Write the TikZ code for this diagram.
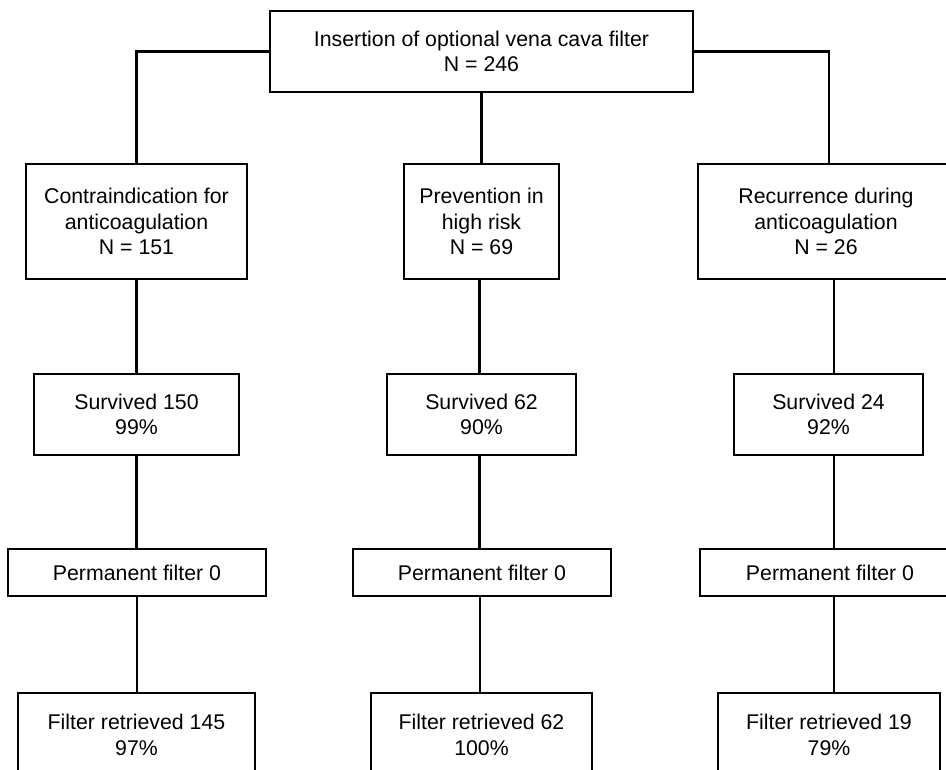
\documentclass[tikz,border=0pt]{standalone}
\usepackage{fontspec}
\setmainfont{Liberation Sans}
\begin{document}
\begin{tikzpicture}[x=1pt,y=-1pt,
  box/.style={draw=black, line width=1.3pt, rectangle, align=center, inner sep=0pt,
              font=\fontsize{21.3}{25.5}\selectfont},
  link/.style={draw=black, line width=2.3pt},
  toplink/.style={draw=black, line width=2.8pt}]
\useasboundingbox (0,0) rectangle (946,770);
\fill[white] (0,0) rectangle (946,770);
\clip (0,0) rectangle (946,770);
% top
\node[box, minimum width=423pt, minimum height=81pt] (top) at (481.5,51.5)
  {Insertion of optional vena cava filter\\N = 246};
% level 2
\node[box, minimum width=221pt, minimum height=115pt] (l2a) at (136.5,221.5)
  {Contraindication for\\anticoagulation\\N = 151};
\node[box, minimum width=155pt, minimum height=115pt] (l2b) at (481.5,221.5)
  {Prevention in\\high risk\\N = 69};
\node[box, minimum width=256pt, minimum height=115pt] (l2c) at (826,221.5)
  {Recurrence during\\anticoagulation\\N = 26};
% level 3
\node[box, minimum width=205pt, minimum height=81pt] (l3a) at (136.5,414.5)
  {Survived 150\\99\%};
\node[box, minimum width=189pt, minimum height=81pt] (l3b) at (481.5,414.5)
  {Survived 62\\90\%};
\node[box, minimum width=189pt, minimum height=81pt] (l3c) at (828.5,414.5)
  {Survived 24\\92\%};
% level 4
\node[box, minimum width=258pt, minimum height=47pt] (l4a) at (137,572.5)
  {Permanent filter 0};
\node[box, minimum width=258pt, minimum height=47pt] (l4b) at (482,572.5)
  {Permanent filter 0};
\node[box, minimum width=260pt, minimum height=47pt] (l4c) at (830,572.5)
  {Permanent filter 0};
% level 5
\node[box, minimum width=237pt, minimum height=84pt] (l5a) at (136.5,735)
  {Filter retrieved 145\\97\%};
\node[box, minimum width=221pt, minimum height=84pt] (l5b) at (481.5,735)
  {Filter retrieved 62\\100\%};
\node[box, minimum width=222pt, minimum height=84pt] (l5c) at (829,735)
  {Filter retrieved 19\\79\%};
% connectors from top
\draw[toplink] (top.west) -| (l2a.north);
\draw[toplink] (top.east) -| ([xshift=3pt]l2c.north);
\draw[link] (top.south) -- (l2b.north);
% left column
\draw[link] (l2a.south) -- (l2a.south |- l3a.north);
\draw[link] (l3a.south) -- (l3a.south |- l4a.north);
\draw[link] (l4a.south) -- (l4a.south |- l5a.north);
% middle column
\draw[link] ([xshift=-2pt]l2b.south) -- ([xshift=-2pt]l2b.south |- l3b.north);
\draw[link] ([xshift=-2pt]l3b.south) -- ([xshift=-2pt]l3b.south |- l4b.north);
\draw[link] ([xshift=-2pt]l4b.south) -- ([xshift=-2pt]l4b.south |- l5b.north);
% right column
\draw[link] ([xshift=8pt]l2c.south) -- ([xshift=8pt]l2c.south |- l3c.north);
\draw[link] ([xshift=5.5pt]l3c.south) -- ([xshift=5.5pt]l3c.south |- l4c.north);
\draw[link] ([xshift=4pt]l4c.south) -- ([xshift=4pt]l4c.south |- l5c.north);
\end{tikzpicture}
\end{document}
